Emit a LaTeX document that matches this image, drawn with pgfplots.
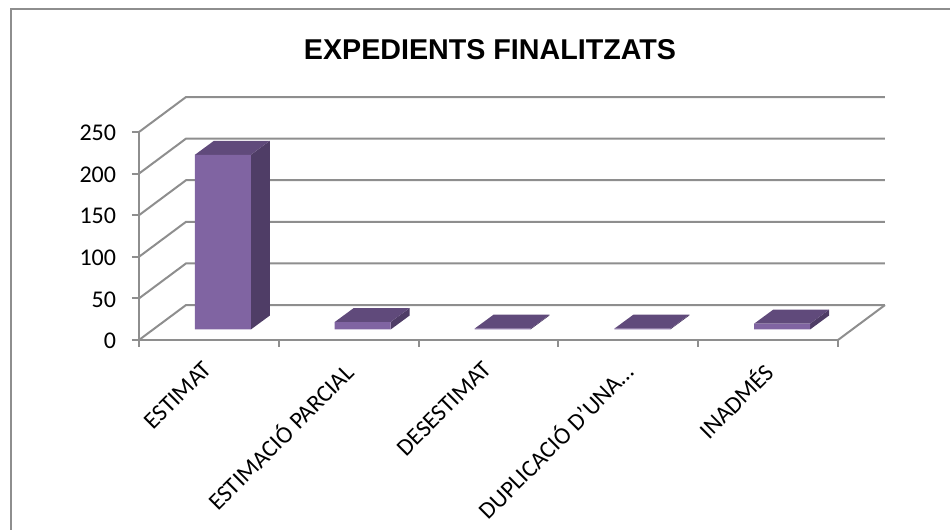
\documentclass[border=0pt]{standalone}
\usepackage{pgfplots}
\pgfplotsset{compat=1.18}
\usepackage{fontspec}
\setmainfont{Carlito}
\newfontfamily\titlefont{Liberation Sans}
\definecolor{gridc}{HTML}{8E8E8E}
\definecolor{frontc}{HTML}{8064A2}
\definecolor{sidec}{HTML}{4F3D66}
\definecolor{topc}{HTML}{604A7B}
\newlength{\px}\setlength{\px}{0.75pt}
\begin{document}
\begin{tikzpicture}[x=0.75pt,y=0.75pt]
\path[use as bounding box] (0,0) rectangle (950,530);
\draw[gridc,line width=2\px] (950,520.5) -- (11,520.5) -- (11,0);
\node[font=\titlefont\bfseries\fontsize{21.5}{24}\selectfont,anchor=center] at (490,480) {EXPEDIENTS FINALITZATS};
\begin{axis}[
  at={(104.25pt,142.5pt)},anchor=south west,
  scale only axis,width=699\px,height=208\px,
  xmin=0,xmax=5,ymin=0,ymax=250,
  clip=false,
  axis x line*=bottom,axis y line*=left,
  axis line style={gridc,line width=2\px,-},
  every tick/.style={gridc,line width=2\px},
  ytick={0,50,100,150,200,250},
  tick align=outside,
  major tick length=7\px,
  xtick={0.5,1.5,2.5,3.5,4.5},
  major x tick style={draw=none},
  minor xtick={0,1,2,3,4,5},
  minor tick length=7\px,
  xticklabels={ESTIMAT,ESTIMACIÓ PARCIAL,DESESTIMAT,DUPLICACIÓ D'UNA…,INADMÉS},
  x tick label style={rotate=45,anchor=north east,inner sep=0pt,font=\fontsize{18}{20}\selectfont,xshift=-14\px,yshift=-4\px},
  y tick label style={font=\fontsize{18}{20}\selectfont,inner sep=2pt,xshift=-13\px,yshift=-1\px},
  /pgf/number format/assume math mode=true,
  bar width=0.4,
]
% back wall and floor edges
\foreach \v in {0,50,100,150,200,250}{
  \edef\temp{\noexpand\draw[gridc,line width=2\noexpand\px] (axis cs:0,\v) -- (axis cs:0.336,\v+42) -- (axis cs:5.336,\v+42);}
  \temp
}
\draw[gridc,line width=2\px] (axis cs:5,0) -- (axis cs:5.336,42);
\pgfplotsset{every axis plot/.append style={shift={(14\px,10.5\px)}}}
% ESTIMAT = 210
\addplot[fill=sidec,draw=none,forget plot] coordinates {(0.7,0)(0.836,16.8)(0.836,226.8)(0.7,210)} -- cycle;
\addplot[fill=topc,draw=none,forget plot] coordinates {(0.3,210)(0.7,210)(0.836,226.8)(0.436,226.8)} -- cycle;
% ESTIMACIÓ PARCIAL = 9
\addplot[fill=sidec,draw=none,forget plot] coordinates {(1.7,0)(1.836,16.8)(1.836,25.8)(1.7,9)} -- cycle;
\addplot[fill=topc,draw=none,forget plot] coordinates {(1.3,9)(1.7,9)(1.836,25.8)(1.436,25.8)} -- cycle;
% DESESTIMAT = 1
\addplot[fill=sidec,draw=none,forget plot] coordinates {(2.7,0)(2.836,16.8)(2.836,17.8)(2.7,1)} -- cycle;
\addplot[fill=topc,draw=none,forget plot] coordinates {(2.3,1)(2.7,1)(2.836,17.8)(2.436,17.8)} -- cycle;
% DUPLICACIÓ = 1
\addplot[fill=sidec,draw=none,forget plot] coordinates {(3.7,0)(3.836,16.8)(3.836,17.8)(3.7,1)} -- cycle;
\addplot[fill=topc,draw=none,forget plot] coordinates {(3.3,1)(3.7,1)(3.836,17.8)(3.436,17.8)} -- cycle;
% INADMÉS = 7
\addplot[fill=sidec,draw=none,forget plot] coordinates {(4.7,0)(4.836,16.8)(4.836,23.8)(4.7,7)} -- cycle;
\addplot[fill=topc,draw=none,forget plot] coordinates {(4.3,7)(4.7,7)(4.836,23.8)(4.436,23.8)} -- cycle;
% front faces
\addplot[ybar,fill=frontc,draw=none] coordinates {(0.5,210)(1.5,9)(2.5,1)(3.5,1)(4.5,7)};
\end{axis}
\end{tikzpicture}
\end{document}
